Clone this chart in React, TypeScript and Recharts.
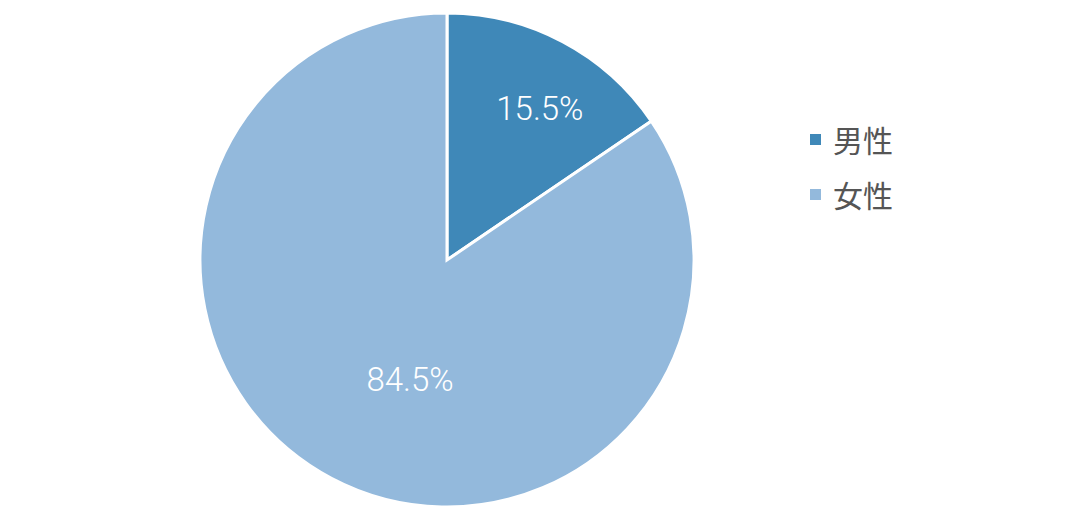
import React from 'react';
import { PieChart, Pie, Cell, Legend } from 'recharts';

const categories = ['男性', '女性'];
const values = [15.5, 84.5];
const colors = ['#3f88b8', '#93b9dc'];
const labelTexts = ['15.5%', '84.5%'];

const data = categories.map((name, i) => ({ name, value: values[i] }));

const RADIAN = Math.PI / 180;
const labelRadiusFactor = [0.72, 0.508];
const labelAngleShift = [-3.6, 10.8];

const renderLabel = (props: any) => {
  const { cx, cy, midAngle, outerRadius, index } = props;
  const r = outerRadius * labelRadiusFactor[index];
  const a = (midAngle + labelAngleShift[index]) * RADIAN;
  const x = cx + r * Math.cos(-a);
  const y = cy + r * Math.sin(-a);
  return (
    <text
      x={x}
      y={y}
      fill="#ffffff"
      textAnchor="middle"
      dominantBaseline="central"
      style={{ fontFamily: 'Roboto, "Noto Sans", sans-serif', fontSize: 33, fontWeight: 300 }}
    >
      {labelTexts[index]}
    </text>
  );
};

const LegendContent = () => (
  <div style={{ fontFamily: '"Noto Sans CJK JP", sans-serif' }}>
    {categories.map((c, i) => (
      <div key={c} style={{ display: 'flex', alignItems: 'center', height: 55 }}>
        <span style={{ width: 11, height: 11, background: colors[i], display: 'inline-block', marginRight: 12 }} />
        <span style={{ fontSize: 30, color: '#555555', lineHeight: '55px' }}>{c}</span>
      </div>
    ))}
  </div>
);

export default function App() {
  return (
    <div style={{ position: 'absolute', left: 0, top: 0, width: 1080, height: 519, background: '#ffffff' }}>
      <PieChart width={1080} height={519}>
        <Pie
          data={data}
          dataKey="value"
          nameKey="name"
          cx={442}
          cy={255}
          outerRadius={247}
          startAngle={90}
          endAngle={-270}
          stroke="#ffffff"
          strokeWidth={3}
          label={renderLabel}
          labelLine={false}
          isAnimationActive={false}
        >
          {data.map((d, i) => (
            <Cell key={d.name} fill={colors[i]} />
          ))}
        </Pie>
        <Legend content={<LegendContent />} wrapperStyle={{ left: 810, top: 112, width: 200 }} />
      </PieChart>
    </div>
  );
}
